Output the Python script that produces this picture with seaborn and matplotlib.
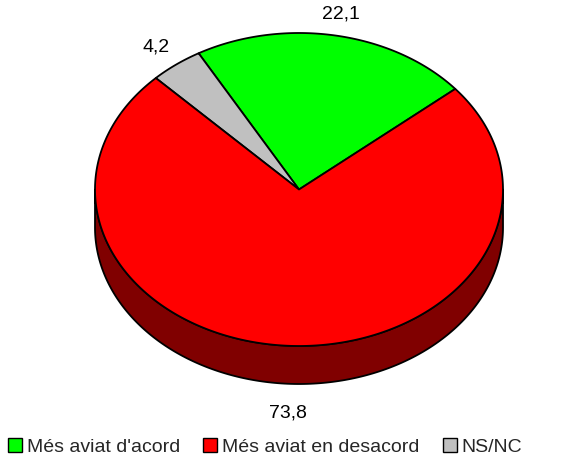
import numpy as np
import matplotlib
matplotlib.use("Agg")
import matplotlib.pyplot as plt
import seaborn as sns
from matplotlib.patches import Polygon, Patch

categories = ["Més aviat d'acord", "Més aviat en desacord", "NS/NC"]
values = [22.1, 73.8, 4.2]
labels = ["22,1", "73,8", "4,2"]
colors = ["#00FF00", "#FF0000", "#C0C0C0"]
side_colors = ["#008000", "#800000", "#606060"]

sns.set_theme(style="white")
plt.rcParams['font.family'] = ['Liberation Sans', 'DejaVu Sans']

W, H = 588, 461
fig = plt.figure(figsize=(W / 100, H / 100), dpi=100)
ax = fig.add_axes([0, 0, 1, 1])
ax.set_xlim(0, W)
ax.set_ylim(H, 0)
ax.axis("off")

cx, cy, rx, ry, depth = 299, 189.5, 204, 156.5, 38
start = 40.0
draw_order = [0, 2, 1]  # counter-clockwise from start angle

total = sum(values)
spans = {}
a = start
for i in draw_order:
    sweep = values[i] / total * 360.0
    spans[i] = (a, a + sweep)
    a += sweep

def pt(t, dy=0.0, f=1.0):
    r = np.radians(t)
    return cx + f * rx * np.cos(r), cy - f * ry * np.sin(r) + dy

# side walls (front, angles 180..360)
for i in draw_order:
    a0, a1 = spans[i]
    for shift in (0, 360, -360):
        lo = max(a0 + shift, 180)
        hi = min(a1 + shift, 360)
        if hi > lo:
            ts = np.linspace(lo, hi, 200)
            top = [pt(t) for t in ts]
            bot = [pt(t, depth) for t in ts[::-1]]
            ax.add_patch(Polygon(top + bot, closed=True, facecolor=side_colors[i],
                                 edgecolor="black", lw=1.3, joinstyle="round"))

# top wedges
for i in draw_order:
    a0, a1 = spans[i]
    ts = np.linspace(a0, a1, 300)
    verts = [(cx, cy)] + [pt(t) for t in ts]
    ax.add_patch(Polygon(verts, closed=True, facecolor=colors[i],
                         edgecolor="black", lw=1.3, joinstyle="round"))

# labels
offsets = {0: (0, 3), 1: (0, 4), 2: (0, 2)}
for i in draw_order:
    a0, a1 = spans[i]
    mid = (a0 + a1) / 2
    x, y = pt(mid, f=1.16)
    if np.sin(np.radians(mid)) < 0:
        y += depth
    dx, dy = offsets[i]
    ax.text(x + dx, y + dy, labels[i], ha="center", va="center", fontsize=14, color="black")

handles = [Patch(facecolor=colors[i], edgecolor="black", lw=1.0) for i in range(3)]
fig.legend(handles, categories, loc="center", bbox_to_anchor=(265 / W, 1 - 447 / H),
           ncol=3, frameon=False, fontsize=14, handlelength=0.72, handleheight=0.72,
           handletextpad=0.25, columnspacing=1.2, borderpad=0, borderaxespad=0)

fig.savefig("out.png", dpi=100)
